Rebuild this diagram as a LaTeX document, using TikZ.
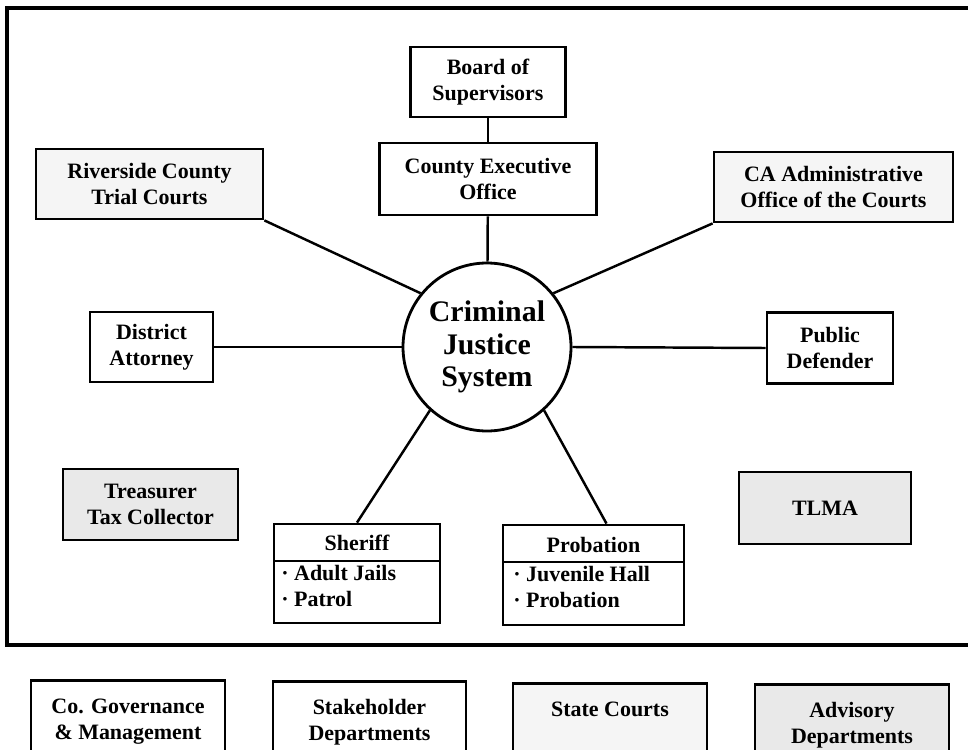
\documentclass[tikz,border=0pt]{standalone}
\usepackage{fontspec}
\setmainfont{Liberation Serif}
\usepackage{xcolor}
\usetikzlibrary{calc, positioning}

\tikzset{
  sz/.style 2 args={minimum width=#1*0.02cm, minimum height=#2*0.02cm},
  box/.style={draw, line width=1.6pt, align=center, inner sep=2pt,
    font=\fontsize{12.5}{14.7}\selectfont\bfseries},
  gov/.style={box, fill=white},
  stake/.style={box, fill=white},
  court/.style={box, fill=gray!8},
  advis/.style={box, fill=gray!17},
  link/.style={line width=1.4pt},
  txt/.style={align=left, inner sep=0pt, font=\fontsize{12.5}{14.7}\selectfont\bfseries},
}

\begin{document}
\begin{tikzpicture}[x=0.02cm, y=-0.02cm]
    % 0. Khung trang
    \useasboundingbox[fill=white] (0,0) rectangle (968,750);
    \draw[line width=1.8pt] (7,8) rectangle (990,645);

    % 1. Nut trung tam
    \node[circle, draw, fill=white, line width=1.6pt, minimum size=168*0.02cm, inner sep=0pt,
          align=center, font=\fontsize{17}{18.7}\selectfont\bfseries]
        (cjs) at (487,347) {Criminal\\Justice\\System};

    % 2. Cac hop phia tren
    \node[gov, sz={155}{70}] (board) at (488,82) {Board of\\Supervisors};
    \node[gov, sz={217}{72}] (ceo) at (488,179) {County Executive\\Office};
    \node[court, sz={227}{70}] (riverside) at (149.5,184) {Riverside County\\Trial Courts};
    \node[court, sz={239}{70}] (caadmin) at (833.5,187) {CA Administrative\\Office of the Courts};

    % 3. Hai ben
    \node[stake, sz={123}{70}] (da) at (151.5,347) {District\\Attorney};
    \node[stake, sz={126}{71}] (pd) at (830,348) {Public\\Defender};
    \node[advis, sz={175}{71}] (treasurer) at (150.5,504.5) {Treasurer\\Tax Collector};
    \node[advis, sz={172}{72}] (tlma) at (825,508) {TLMA};

    % 4. Sheriff va Probation
    \node[stake, sz={166}{99}] (sheriff) at (357,573.5) {};
    \draw[line width=1.6pt] (274,561) -- (440,561);
    \node[txt] (sherifft) at (357,543) {Sheriff};
    \node[txt, anchor=west] (sheriffl) at (281,586)
        {\textperiodcentered\ Adult Jails\\\textperiodcentered\ Patrol};

    \node[stake, sz={181}{100}] (probation) at (593.5,575) {};
    \draw[line width=1.6pt] (503,562) -- (684,562);
    \node[txt] (probationt) at (593.5,545) {Probation};
    \node[txt, anchor=west] (probationl) at (513,587)
        {\textperiodcentered\ Juvenile Hall\\\textperiodcentered\ Probation};

    % 5. Duong noi
    \draw[link] (board) -- (ceo);
    \draw[link] (ceo) -- (cjs);
    \draw[link] (riverside.south east) -- (cjs.141);
    \draw[link] (caadmin.south west) -- (cjs.39);
    \draw[link] (da) -- (cjs);
    \draw[link] (pd.west) -- (cjs.east);
    \draw[link] (sheriff.north) -- (cjs.-132);
    \draw[link] ($(probation.north)+(13,0)$) -- (cjs.-48);

    % 6. Chu thich
    \node[gov, sz={194}{82}, anchor=north] (leggov) at (128,679) {Co. Governance\\\& Management};
    \node[stake, sz={193}{82}, anchor=north] (legstake) at (369.5,680) {Stakeholder\\Departments};
    \node[court, sz={194}{82}, anchor=north] (legcourt) at (610,682) {State Courts\\\phantom{Dp}};
    \node[advis, sz={194}{82}, anchor=north] (legadv) at (852,683) {Advisory\\Departments};
\end{tikzpicture}
\end{document}
